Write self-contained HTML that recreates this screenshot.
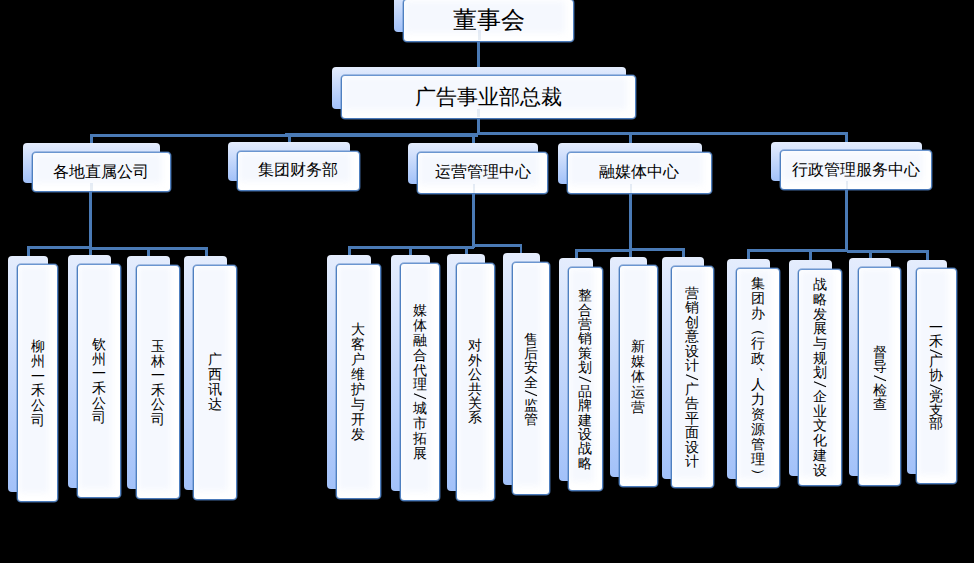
<!DOCTYPE html>
<html><head><meta charset="utf-8"><style>
html,body{margin:0;padding:0;background:#000;width:974px;height:563px;overflow:hidden;position:relative}
body{font-family:"Liberation Sans",sans-serif;color:#000}
.ln{position:absolute;background:#4a7ab5}
.fl{position:absolute;background:rgba(74,122,181,.13)}
.bk{position:absolute;border-radius:4px;background:linear-gradient(#e5edfd,#a2c1f9)}
.fr{position:absolute;box-sizing:border-box;border:1px solid;border-color:#6b96d0 #4f80c0 #4a7aba #4f80c0;box-shadow:0 0 0 0.7px rgba(80,128,192,.55);border-radius:4px;background:#fff;display:flex;align-items:center;justify-content:center;overflow:hidden}
.fr .in{position:absolute;left:1px;top:1px;right:8px;bottom:8px;background:#f5f8fe;filter:blur(3px)}
.fr .tx{position:relative;white-space:nowrap}
.h0 .tx{font-size:24px}
.h1 .tx{font-size:21px}
.h2 .tx{font-size:16px}
.v .tx{font-size:14px;line-height:var(--a);width:16px;text-align:center}
.v b{display:block;font-weight:normal;height:var(--a)}
.v b.sl{height:var(--s);line-height:0}
.v b.sl svg{display:block;margin-left:1px}
.v b.dn{height:11px;transform:translate(7px,-9px)}
.v b.rp{transform:rotate(90deg)}
</style></head><body>
<div class="ln" style="left:477px;top:38px;width:3.0px;height:40.0px"></div>
<div class="ln" style="left:477px;top:115px;width:3.0px;height:20.0px"></div>
<div class="ln" style="left:90px;top:134px;width:195.0px;height:3.0px"></div>
<div class="ln" style="left:285px;top:133.2px;width:193.0px;height:3.4px"></div>
<div class="ln" style="left:478px;top:132px;width:370.0px;height:3.0px"></div>
<div class="ln" style="left:90px;top:134px;width:3.0px;height:21.0px"></div>
<div class="ln" style="left:288px;top:134px;width:3.0px;height:21.0px"></div>
<div class="ln" style="left:472px;top:134px;width:3.0px;height:21.0px"></div>
<div class="ln" style="left:629px;top:134px;width:3.0px;height:21.0px"></div>
<div class="ln" style="left:845px;top:134px;width:3.0px;height:21.0px"></div>
<div class="ln" style="left:89px;top:188px;width:3.0px;height:68.5px"></div>
<div class="ln" style="left:27px;top:246.3px;width:64.0px;height:2.7px"></div>
<div class="ln" style="left:91px;top:247px;width:117.0px;height:3.0px"></div>
<div class="ln" style="left:27.3px;top:247px;width:3.0px;height:15.0px"></div>
<div class="ln" style="left:147px;top:247px;width:3.0px;height:15.0px"></div>
<div class="ln" style="left:205px;top:247px;width:3.0px;height:15.0px"></div>
<div class="ln" style="left:472px;top:190px;width:2.7px;height:58.0px"></div>
<div class="ln" style="left:348px;top:246.2px;width:126.0px;height:2.8px"></div>
<div class="ln" style="left:474px;top:244.2px;width:48.4px;height:3.0px"></div>
<div class="ln" style="left:348.2px;top:246px;width:2.7px;height:16.0px"></div>
<div class="ln" style="left:409.2px;top:246px;width:2.7px;height:16.0px"></div>
<div class="ln" style="left:465px;top:246px;width:2.7px;height:16.0px"></div>
<div class="ln" style="left:519.6px;top:246px;width:2.7px;height:16.0px"></div>
<div class="ln" style="left:629px;top:190px;width:2.6px;height:68.5px"></div>
<div class="ln" style="left:575.3px;top:249.2px;width:55.7px;height:3.0px"></div>
<div class="ln" style="left:631px;top:248.3px;width:53.5px;height:2.7px"></div>
<div class="ln" style="left:575.3px;top:250px;width:2.7px;height:14.0px"></div>
<div class="ln" style="left:682px;top:250px;width:2.7px;height:14.0px"></div>
<div class="ln" style="left:845px;top:187px;width:2.7px;height:65.0px"></div>
<div class="ln" style="left:747.2px;top:249.2px;width:99.8px;height:3.0px"></div>
<div class="ln" style="left:847px;top:250.3px;width:82.0px;height:2.8px"></div>
<div class="ln" style="left:747.2px;top:251px;width:2.9px;height:14.0px"></div>
<div class="ln" style="left:809.2px;top:251px;width:2.9px;height:14.0px"></div>
<div class="ln" style="left:869.1px;top:251px;width:2.9px;height:14.0px"></div>
<div class="ln" style="left:926.1px;top:251px;width:2.9px;height:14.0px"></div>
<div class="bk h0" style="left:394.1px;top:-10.0px;width:170.1px;height:41.8px"></div>
<div class="fr h0" style="left:403.0px;top:-1.5px;width:171.4px;height:43.1px"><div class="in"></div><div class="tx">董事会</div></div>
<div class="bk h1" style="left:331.8px;top:66.7px;width:293.8px;height:42.2px"></div>
<div class="fr h1" style="left:340.7px;top:75.2px;width:295.1px;height:43.5px"><div class="in"></div><div class="tx">广告事业部总裁</div></div>
<div class="bk h2" style="left:23.1px;top:143.3px;width:137.2px;height:39.4px"></div>
<div class="fr h2" style="left:32.0px;top:151.8px;width:138.5px;height:40.7px"><div class="in"></div><div class="tx">各地直属公司</div></div>
<div class="bk h2" style="left:227.8px;top:142.0px;width:122.2px;height:39.1px"></div>
<div class="fr h2" style="left:236.7px;top:150.5px;width:123.5px;height:40.4px"><div class="in"></div><div class="tx">集团财务部</div></div>
<div class="bk h2" style="left:408.1px;top:143.0px;width:129.9px;height:40.9px"></div>
<div class="fr h2" style="left:417.0px;top:151.5px;width:131.2px;height:42.2px"><div class="in"></div><div class="tx">运营管理中心</div></div>
<div class="bk h2" style="left:558.1px;top:143.0px;width:143.6px;height:40.8px"></div>
<div class="fr h2" style="left:567.0px;top:151.5px;width:144.9px;height:42.1px"><div class="in"></div><div class="tx">融媒体中心</div></div>
<div class="bk h2" style="left:771.3px;top:141.7px;width:150.7px;height:39.0px"></div>
<div class="fr h2" style="left:780.2px;top:150.2px;width:152.0px;height:40.3px"><div class="in"></div><div class="tx">行政管理服务中心</div></div>
<div class="bk v" style="left:8.1px;top:255.9px;width:39.7px;height:236.3px"></div>
<div class="fr v" style="left:17.0px;top:264.4px;width:41.0px;height:237.6px"><div class="in"></div><div class="tx" style="--a:14.7px;--s:9px;top:0px"><b>柳</b><b>州</b><b>一</b><b>禾</b><b>公</b><b>司</b></div></div>
<div class="bk v" style="left:67.8px;top:255.3px;width:43.1px;height:233.0px"></div>
<div class="fr v" style="left:76.7px;top:263.8px;width:44.4px;height:234.3px"><div class="in"></div><div class="tx" style="--a:14.7px;--s:9px;top:0px"><b>钦</b><b>州</b><b>一</b><b>禾</b><b>公</b><b>司</b></div></div>
<div class="bk v" style="left:127.1px;top:256.1px;width:42.9px;height:233.1px"></div>
<div class="fr v" style="left:136.0px;top:264.6px;width:44.2px;height:234.4px"><div class="in"></div><div class="tx" style="--a:14.5px;--s:9px;top:1px"><b>玉</b><b>林</b><b>一</b><b>禾</b><b>公</b><b>司</b></div></div>
<div class="bk v" style="left:184.2px;top:256.1px;width:42.9px;height:234.0px"></div>
<div class="fr v" style="left:193.1px;top:264.6px;width:44.2px;height:235.3px"><div class="in"></div><div class="tx" style="--a:14.9px;--s:9px;top:0px"><b>广</b><b>西</b><b>讯</b><b>达</b></div></div>
<div class="bk v" style="left:327.0px;top:255.4px;width:43.8px;height:233.8px"></div>
<div class="fr v" style="left:335.9px;top:263.9px;width:45.1px;height:235.1px"><div class="in"></div><div class="tx" style="--a:15.1px;--s:9px;top:0.5px"><b>大</b><b>客</b><b>户</b><b>维</b><b>护</b><b>与</b><b>开</b><b>发</b></div></div>
<div class="bk v" style="left:390.8px;top:254.7px;width:39.5px;height:236.2px"></div>
<div class="fr v" style="left:399.7px;top:263.2px;width:40.8px;height:237.5px"><div class="in"></div><div class="tx" style="--a:14.8px;--s:9px;top:0px"><b>媒</b><b>体</b><b>融</b><b>合</b><b>代</b><b>理</b><b class="sl"><svg width="14" height="9"><line x1="1" y1="1.8" x2="13" y2="6.8" stroke="#000" stroke-width="1.1"/></svg></b><b>城</b><b>市</b><b>拓</b><b>展</b></div></div>
<div class="bk v" style="left:447.2px;top:254.1px;width:37.5px;height:236.8px"></div>
<div class="fr v" style="left:456.1px;top:262.6px;width:38.8px;height:238.1px"><div class="in"></div><div class="tx" style="--a:14.4px;--s:9px;top:0px"><b>对</b><b>外</b><b>公</b><b>共</b><b>关</b><b>系</b></div></div>
<div class="bk v" style="left:502.8px;top:253.1px;width:36.8px;height:231.9px"></div>
<div class="fr v" style="left:511.7px;top:261.6px;width:38.1px;height:233.2px"><div class="in"></div><div class="tx" style="--a:14.4px;--s:9px;top:1px"><b>售</b><b>后</b><b>安</b><b>全</b><b class="sl"><svg width="14" height="9"><line x1="1" y1="1.8" x2="13" y2="6.8" stroke="#000" stroke-width="1.1"/></svg></b><b>监</b><b>管</b></div></div>
<div class="bk v" style="left:558.8px;top:258.2px;width:34.1px;height:222.7px"></div>
<div class="fr v" style="left:567.7px;top:266.7px;width:35.4px;height:224.0px"><div class="in"></div><div class="tx" style="--a:14.45px;--s:9px;top:0.5px"><b>整</b><b>合</b><b>营</b><b>销</b><b>策</b><b>划</b><b class="sl"><svg width="14" height="9"><line x1="1" y1="1.8" x2="13" y2="6.8" stroke="#000" stroke-width="1.1"/></svg></b><b>品</b><b>牌</b><b>建</b><b>设</b><b>战</b><b>略</b></div></div>
<div class="bk v" style="left:610.1px;top:256.7px;width:37.4px;height:220.4px"></div>
<div class="fr v" style="left:619.0px;top:265.2px;width:38.7px;height:221.7px"><div class="in"></div><div class="tx" style="--a:15.2px;--s:9px;top:1px"><b>新</b><b>媒</b><b>体</b><b>运</b><b>营</b></div></div>
<div class="bk v" style="left:662.3px;top:257.3px;width:41.3px;height:221.4px"></div>
<div class="fr v" style="left:671.2px;top:265.8px;width:42.6px;height:222.7px"><div class="in"></div><div class="tx" style="--a:14.5px;--s:9px;top:0px"><b>营</b><b>销</b><b>创</b><b>意</b><b>设</b><b>计</b><b class="sl"><svg width="14" height="9"><line x1="1" y1="1.8" x2="13" y2="6.8" stroke="#000" stroke-width="1.1"/></svg></b><b>广</b><b>告</b><b>平</b><b>面</b><b>设</b><b>计</b></div></div>
<div class="bk v" style="left:727.0px;top:259.2px;width:42.8px;height:219.5px"></div>
<div class="fr v" style="left:735.9px;top:267.7px;width:44.1px;height:220.8px"><div class="in"></div><div class="tx" style="--a:15.0px;--s:9px;top:0.5px"><b>集</b><b>团</b><b>办</b><b class="rp">（</b><b>行</b><b>政</b><b class="dn">、</b><b>人</b><b>力</b><b>资</b><b>源</b><b>管</b><b>理</b><b class="rp">）</b></div></div>
<div class="bk v" style="left:789.0px;top:260.3px;width:42.8px;height:215.6px"></div>
<div class="fr v" style="left:797.9px;top:268.8px;width:44.1px;height:216.9px"><div class="in"></div><div class="tx" style="--a:14.7px;--s:9px;top:0px"><b>战</b><b>略</b><b>发</b><b>展</b><b>与</b><b>规</b><b>划</b><b class="sl"><svg width="14" height="9"><line x1="1" y1="1.8" x2="13" y2="6.8" stroke="#000" stroke-width="1.1"/></svg></b><b>企</b><b>业</b><b>文</b><b>化</b><b>建</b><b>设</b></div></div>
<div class="bk v" style="left:849.2px;top:258.0px;width:41.6px;height:217.9px"></div>
<div class="fr v" style="left:858.1px;top:266.5px;width:42.9px;height:219.2px"><div class="in"></div><div class="tx" style="--a:14.5px;--s:9px;top:2px"><b>督</b><b>导</b><b class="sl"><svg width="14" height="9"><line x1="1" y1="1.8" x2="13" y2="6.8" stroke="#000" stroke-width="1.1"/></svg></b><b>检</b><b>查</b></div></div>
<div class="bk v" style="left:907.0px;top:259.5px;width:39.7px;height:214.7px"></div>
<div class="fr v" style="left:915.9px;top:268.0px;width:41.0px;height:216.0px"><div class="in"></div><div class="tx" style="--a:13.8px;--s:7px;top:0px"><b>一</b><b>禾</b><b class="sl"><svg width="14" height="9"><line x1="1" y1="1.8" x2="13" y2="6.8" stroke="#000" stroke-width="1.1"/></svg></b><b>广</b><b>协</b><b class="sl"><svg width="14" height="9"><line x1="1" y1="1.8" x2="13" y2="6.8" stroke="#000" stroke-width="1.1"/></svg></b><b>党</b><b>支</b><b>部</b></div></div>
<div class="fl" style="left:478px;top:30px;width:2.5px;height:10px"></div>
<div class="fl" style="left:477px;top:108.5px;width:2.8px;height:8.5px"></div>
<div class="fl" style="left:90px;top:182.5px;width:2.8px;height:8.5px"></div>
<div class="fl" style="left:472.5px;top:183.5px;width:2.8px;height:9px"></div>
<div class="fl" style="left:629.5px;top:183.5px;width:2.8px;height:9px"></div>
<div class="fl" style="left:845.5px;top:180.5px;width:2.8px;height:9px"></div>
</body></html>
